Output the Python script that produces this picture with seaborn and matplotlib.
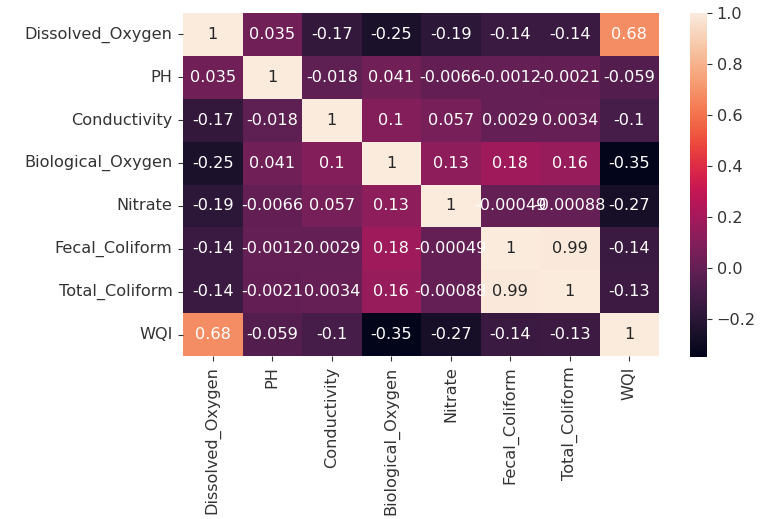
import numpy as np
import pandas as pd
import matplotlib
matplotlib.use("Agg")
import matplotlib.pyplot as plt
import seaborn as sns

labels = ["Dissolved_Oxygen", "PH", "Conductivity", "Biological_Oxygen",
          "Nitrate", "Fecal_Coliform", "Total_Coliform", "WQI"]

dissolved_oxygen = [1, 0.035, -0.17, -0.25, -0.19, -0.14, -0.14, 0.68]
ph = [0.035, 1, -0.018, 0.041, -0.0066, -0.0012, -0.0021, -0.059]
conductivity = [-0.17, -0.018, 1, 0.1, 0.057, 0.0029, 0.0034, -0.1]
biological_oxygen = [-0.25, 0.041, 0.1, 1, 0.13, 0.18, 0.16, -0.35]
nitrate = [-0.19, -0.0066, 0.057, 0.13, 1, -0.00049, -0.00088, -0.27]
fecal_coliform = [-0.14, -0.0012, 0.0029, 0.18, -0.00049, 1, 0.99, -0.14]
total_coliform = [-0.14, -0.0021, 0.0034, 0.16, -0.00088, 0.99, 1, -0.13]
wqi = [0.68, -0.059, -0.1, -0.35, -0.27, -0.14, -0.13, 1]

corr = pd.DataFrame(
    [dissolved_oxygen, ph, conductivity, biological_oxygen,
     nitrate, fecal_coliform, total_coliform, wqi],
    index=labels, columns=labels,
)

W, H = 764, 519
fig = plt.figure(figsize=(W / 100, H / 100), dpi=100)
ax = fig.add_axes([183 / W, 1 - 356 / H, 476 / W, 343 / H])
cax = fig.add_axes([690 / W, 1 - 357 / H, 17 / W, 344 / H])

fs = 11.6
txt = "#333333"
sns.heatmap(corr, annot=True, ax=ax, cbar_ax=cax,
            annot_kws={"fontsize": fs})
ax.tick_params(labelsize=fs, labelcolor=txt, color=txt, pad=4)
ax.set_xticklabels(ax.get_xticklabels(), rotation=90)
ax.set_yticklabels(ax.get_yticklabels(), rotation=0)
cax.tick_params(labelsize=fs, labelcolor=txt, color=txt)
cax.set_yticks([-0.2, 0.0, 0.2, 0.4, 0.6, 0.8, 1.0])

fig.savefig("out.png", dpi=100)
